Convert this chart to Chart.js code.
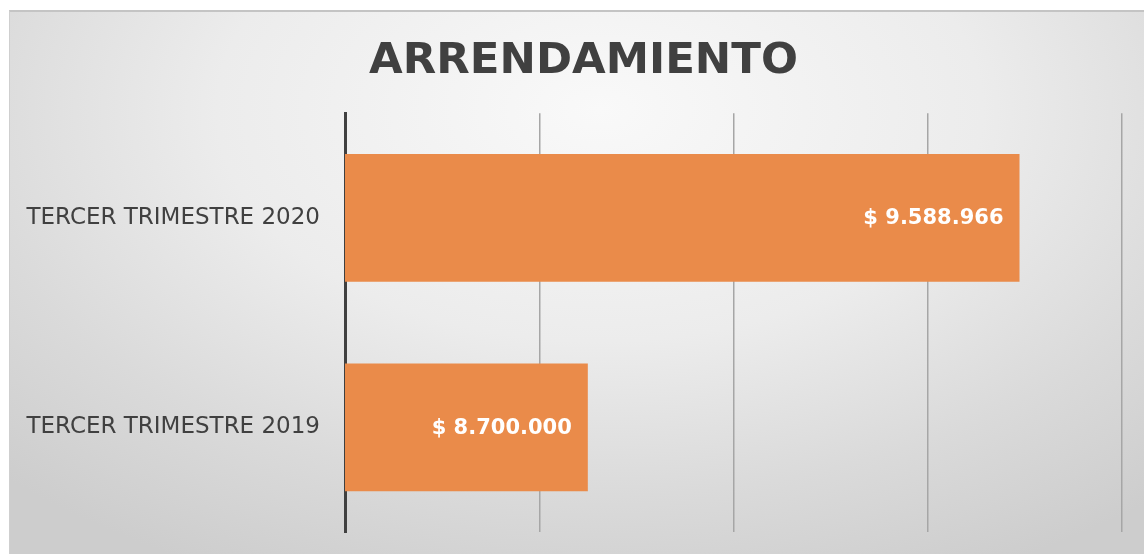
<!DOCTYPE html>
<html>
<head>
<meta charset="utf-8">
<script src="https://cdn.jsdelivr.net/npm/chart.js@4"></script>
<style>
    body { margin: 0; background: #ffffff; }
    #wrap {
        position: absolute;
        left: 9px;
        top: 10px;
        width: 1135px;
        height: 544px;
        border-top: 2px solid #c4c4c4;
        border-left: 1px solid #cfcfcf;
        box-sizing: border-box;
        background: radial-gradient(ellipse 75% 95% at 52% 18%, #f9f9f9 0%, #ececec 45%, #dadada 75%, #cdcdcd 100%);
    }
</style>
</head>
<body>
<div id="wrap"><canvas id="arrChart"></canvas></div>
<script>
// ARRENDAMIENTO - tercer trimestre

const categories = ['TERCER TRIMESTRE 2020', 'TERCER TRIMESTRE 2019'];
const valores = [9588966, 8700000];
const axisMin = 8200000;
const axisMax = 9800000;
const axisStep = 400000;

// "$ 9.588.966"
function formatPesos(v) {
    return '$ ' + v.toString().replace(/\B(?=(\d{3})+(?!\d))/g, '.');
}

// Value labels drawn inside the end of each bar
const barLabels = {
    id: 'barLabels',
    afterLayout(chart) {
        // let the long category labels run past the padded box without clipping
        chart.scales.y.left = 0;
    },
    afterDatasetsDraw(chart) {
        const ctx = chart.ctx;
        const meta = chart.getDatasetMeta(0);
        ctx.save();
        ctx.font = 'bold 21px "DejaVu Sans"';
        ctx.fillStyle = '#ffffff';
        ctx.textAlign = 'right';
        ctx.textBaseline = 'middle';
        meta.data.forEach((bar, i) => {
            ctx.fillText(formatPesos(valores[i]), bar.x - 16, bar.y + 1);
        });
        ctx.restore();
    }
};

new Chart(document.getElementById('arrChart'), {
    type: 'bar',
    data: {
        labels: categories,
        datasets: [{
            data: valores,
            backgroundColor: 'rgb(234, 139, 74)',
            borderWidth: 0,
            barPercentage: 0.61,
            categoryPercentage: 1
        }]
    },
    options: {
        indexAxis: 'y',
        responsive: true,
        maintainAspectRatio: false,
        animation: false,
        layout: {
            padding: { left: 35, right: 22, top: 0, bottom: 22 }
        },
        plugins: {
            legend: { display: false },
            tooltip: { enabled: false },
            title: {
                display: true,
                text: 'ARRENDAMIENTO',
                color: '#404040',
                font: { family: 'DejaVu Sans', size: 43.5, weight: 'bold' },
                padding: { top: 24, bottom: 25 }
            }
        },
        scales: {
            x: {
                min: axisMin,
                max: axisMax,
                ticks: { stepSize: axisStep, display: false },
                grid: { color: '#a6a6a6', lineWidth: 1.5, drawTicks: false },
                border: { display: false }
            },
            y: {
                grid: { display: false, drawTicks: false },
                border: { color: '#404040', width: 3 },
                ticks: {
                    color: '#404040',
                    padding: 25,
                    font: { family: 'DejaVu Sans', size: 23 }
                },
                afterFit(scale) {
                    scale.width = 300;
                    scale.paddingTop = 0;
                    scale.paddingBottom = 0;
                }
            }
        }
    },
    plugins: [barLabels]
});
</script>
</body>
</html>
